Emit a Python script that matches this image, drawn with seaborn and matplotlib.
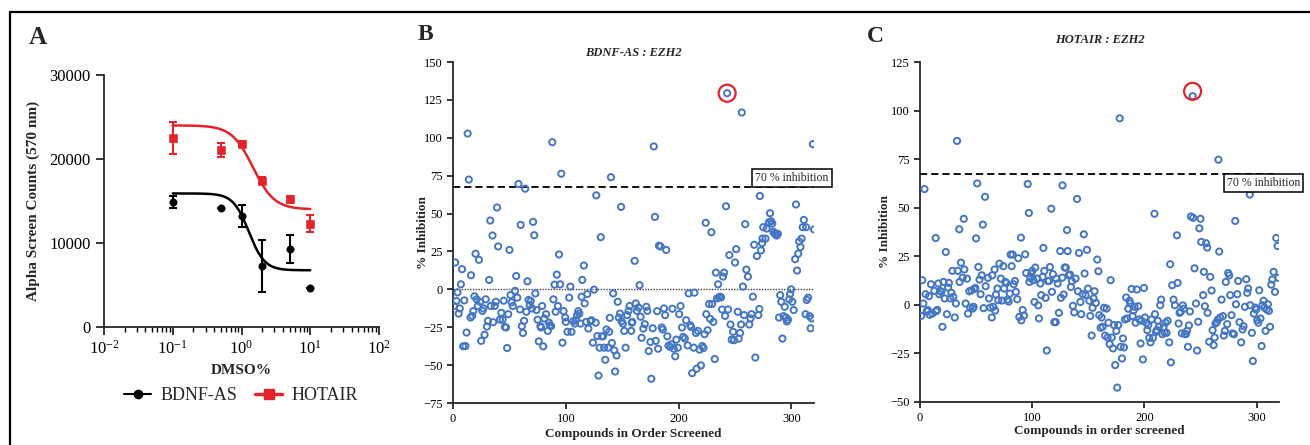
import numpy as np
import pandas as pd
import matplotlib
matplotlib.use("Agg")
import matplotlib.pyplot as plt
from matplotlib.lines import Line2D
import seaborn as sns

# ---------------- Panel A data ----------------
dmso_pct = [0.1, 0.5, 1.0, 2.0, 5.0, 10.0]
bdnf_counts = [14900, 14200, 13200, 7300, 9300, 4600]
bdnf_err = [700, 0, 1350, 3100, 1700, 0]
hotair_counts = [22500, 21100, 21800, 17400, 15200, 12300]
hotair_err = [1900, 850, 300, 400, 400, 1000]
# four-parameter logistic fit parameters (top, bottom, IC50, hill)
bdnf_fit = [15900, 6750, 1.28, 3.8]
hotair_fit = [24000, 14000, 1.47, 2.8]

# ---------------- Panel B data (BDNF-AS : EZH2) ----------------
b_compound = [
    1, 2, 3, 4, 5, 6, 7, 8, 9, 10, 11, 12, 13, 14, 15.5, 16, 17, 18, 19, 20,
    21, 22, 23, 24, 25, 26, 27, 28, 29, 30, 31, 32, 33, 33.5, 35, 35.6, 37, 38, 39, 40,
    41.6, 42.8, 44, 45, 46, 47, 48, 49, 50, 51, 52, 53, 55, 56, 57, 58, 59.4, 60, 61, 62,
    63, 64, 65, 66, 67, 68, 69, 70, 71, 72, 73, 74, 75, 76, 77.5, 78, 79, 80, 81, 82.5,
    84, 85, 86, 87, 88, 89, 90, 91, 92, 93, 94, 95, 96, 97, 98, 99.5, 100, 101.5, 103, 104,
    105, 106.6, 108, 109, 110, 111, 112, 113, 114, 114.6, 116, 116.7, 118, 119, 120, 122, 122.7, 124, 125, 126.5,
    127, 128, 129, 130, 131, 132, 133, 134, 135, 136, 137.5, 138.4, 139, 140, 140.8, 142, 143, 143.7, 145, 146,
    147, 148, 149, 149.4, 150.6, 151.8, 153, 154.4, 155.6, 156.5, 158, 158.5, 159, 161, 162, 163, 164.5, 165.4, 166.3, 167.2,
    168.7, 170, 171.4, 172.3, 173.5, 175, 175.8, 177, 178, 179, 179.7, 181, 181.8, 182.6, 184, 185, 186, 187, 188, 189,
    190, 191, 192.5, 193.6, 194.5, 195.7, 197, 198, 199.3, 200.5, 201.7, 203, 204, 205.5, 206.7, 208, 208.8, 210.3, 211, 212,
    213.4, 214, 215.3, 216, 217, 218.6, 219.8, 221, 222, 223, 224, 224.5, 225.7, 227, 228, 229, 229.6, 230.8, 232, 233,
    234, 235, 235.8, 236.7, 237.6, 238.5, 239.4, 240.3, 241.2, 242, 243, 243.8, 245, 246, 247, 248.3, 249.2, 250, 251, 252.4,
    253.3, 254.5, 255.4, 256, 257, 258, 259, 260, 261.4, 262.6, 263.7, 264.6, 265.8, 267, 268, 269.4, 270.6, 271.5, 272, 273,
    274, 274.3, 275, 277, 278, 280, 281, 282, 283, 284, 285, 286, 287, 288, 289, 290, 291, 292, 293, 294,
    295.2, 296, 297, 298, 298.8, 299.7, 300.8, 302, 303.3, 304, 305, 306, 306.8, 308, 309, 310, 311, 312.5, 313, 313.6,
    314.8, 316, 317, 318, 319, 320,
]
b_inhibition = [
    -11, 17.7, -7.7, -2, -16, -12.6, 3.3, 13.3, -37.6, -7.3, -37.4, -28.5, 102.8, 72.4, -18.6, 9.3, -17.5, -14.4, -4.6, 23.5,
    -6.6, -11, 19.5, -8.2, -34, -14.2, -12.6, -30, -6.6, -24.6, -20.8, 6.2, 45.4, -11, 35.5, -21.7, -11, -8.2, 54, 28.3,
    -20, -15.5, -20, -7.5, -24.8, -25.2, -38.7, -16.4, 26, -3.8, -8.6, -11, -1, 8.8, -5.5, 69.5, -13.3, 42.5, -24.3, -28.8,
    -20.8, 66.4, -14.8, 5.3, -7, -10.4, -7.7, -12.6, 44.5, 35.7, -2.7, -13.7, -20, -34.3, -24.3, -25.2, -11, -37.6, -19.2, -16.4,
    -27.4, -22, -23.7, -24.3, 97.1, -6.6, 3.1, -14.8, 9.7, -11, 23, 3.3, 76.3, -35.2, -14.4, -18.6, -21.5, -28, -5.5, 1.8,
    -28, -21, -22.6, -20.4, -17, -14.4, -16, -22.6, -4.9, 6.2, 15.7, -9.3, -21.5, -3.1, -25.9, -21, -20.4, -35.2, -0.2, -22,
    62, -30.8, -56.9, -38.5, 34.4, -31, -31, -38.5, -46.5, -26.5, -38.5, -28, -18.8, 74, -35.4, -2.7, -40.3, -54.2, -43.6, -8.2,
    -18.6, -16, 54.4, -21, -22.6, -27.4, -38.5, -17, -14.2, -11, -27.4, -22, -21.5, 18.8, -9.3, -14.2, -12, 2.7, -18.1, -32,
    -25.9, -23, -11.5, -14.2, -40.7, -34.7, -59, -25.7, 94.3, 47.8, -34, -14.4, -39.2, 28.8, 28.3, -25.2, -26.5, -12.6, -17, 26,
    -31, -37.2, -38, -36.3, -12.8, -39.2, -44.2, -33.2, -38.5, -16.4, -11, -25.2, -31.4, -32.5, -20.4, -37, -2.7, -23.7, -24.8, -55.3,
    -38.5, -2.2, -28.8, -52.4, -27.4, -39.8, -50.2, -37.4, -38.7, -29.6, 43.9, -16.4, -27, -9.7, -19.5, 37.7, -9.7, -21.5, -46, 11,
    -6, 3.3, -5.3, -4.9, -5.3, -13.3, 8.4, 11, -17.5, 54.8, 129.4, -13.3, 22.6, -23.2, -33.2, -28, -33.6, 17.7, 26.5, -14.8,
    -32.5, -28.8, -23.2, 116.7, 1.8, -17, 43, 13, 8.4, -23.2, -19.2, -16.4, -4.9, 29.4, -45, 22, -17, -13, 61.6, 25.7,
    30.5, 33.5, 41, 33.5, 40.1, 44.3, 50.2, 44.9, 43.4, 38, 36.8, 36.2, 35.5, 36.6, -18.6, -3.8, -8.2, -32.5, -17.7, -11.5,
    -18.6, -21.2, -20, -6.6, -3.1, 0, -8.2, -13.7, 19.9, 56, 12.4, 23.5, 31.6, 27.9, 33.5, 41, 45.8, -16.4, 41, -7,
    -5.5, -17.7, -25.7, -19.2, 95.8, 39.5,
]

# ---------------- Panel C data (HOTAIR : EZH2) ----------------
c_compound = [
    1, 2, 3, 4, 5, 6, 7, 8, 8.6, 9.8, 11, 12.8, 14, 14.3, 15.4, 16.3, 17.2, 18, 19, 20,
    21, 22, 23, 24, 25, 25.8, 27, 28, 28.8, 29.7, 31, 32, 33, 33.6, 35, 35.3, 36.5, 38, 39, 39.5,
    40.7, 41.9, 42.8, 44, 44.8, 46, 47, 47.8, 48.4, 49.3, 50, 51, 52, 53, 54, 55, 56, 56.7, 58, 58.5,
    60.6, 61.5, 62.7, 64, 64.4, 65.3, 66.5, 67, 67.7, 69, 69.8, 70.7, 72, 73, 74.3, 75, 76, 77, 78, 79,
    80, 80.8, 81.7, 82.6, 83.5, 84.6, 85.5, 86.7, 87.6, 88.5, 90, 90.3, 91.5, 92.7, 93.8, 94.7, 96, 97, 97.5, 98.3,
    99.2, 100, 101, 102, 102.8, 104.5, 105.4, 106, 107.2, 108, 109.3, 110, 110.8, 112, 113, 114, 115, 115.8, 117, 117.6,
    118.5, 119.7, 121, 121.5, 122.7, 123.8, 125, 125.6, 126.8, 127, 128, 129, 130, 131, 131.6, 132.5, 133.7, 134.5, 135.4, 136.3,
    137.5, 138.7, 140, 140.8, 141.7, 143, 143.7, 145, 146, 146.7, 147.6, 148.8, 149.7, 150.9, 151.8, 153, 153.8, 154.7, 155.6, 156.8,
    158, 159, 159.8, 161, 161.9, 162.8, 164, 165, 166.3, 167.2, 168, 169, 169.9, 171, 172, 173, 174, 175, 175.8, 176.7,
    178, 178.8, 180, 180.9, 181.8, 182.7, 183.8, 184.7, 185.6, 186.8, 187.4, 188.6, 189.5, 190.4, 191.3, 192.2, 193.3, 194.5, 195.4, 196.6,
    197.5, 198.7, 199.6, 200.5, 201.7, 202.6, 203.4, 204.3, 205.5, 206.4, 207.6, 209, 209.4, 210.3, 211.2, 212, 213, 214.1, 215, 216,
    217.1, 218, 218.9, 219.8, 220.7, 222.2, 223, 223.6, 224.8, 226, 227.2, 229, 229.6, 230.5, 231.4, 232.3, 233.4, 234.3, 235.2, 236.1,
    237, 238, 238.8, 239.7, 240.6, 241.5, 243, 243.5, 244.7, 246, 247, 248, 249, 250, 250.7, 252.4, 253, 253.9, 255, 256,
    256.3, 257.8, 258.7, 259.9, 260.8, 261.7, 262.6, 263.4, 264.6, 265.5, 266, 266.7, 267.6, 268.8, 270, 270.8, 271.8, 272.6, 273.8, 274.7,
    275.6, 276.5, 277.7, 278.6, 279.8, 281, 281.6, 282.8, 283.6, 284.8, 286.3, 287.5, 288.4, 289.6, 290.8, 291.7, 292.5, 294, 294.3, 295.8,
    296.7, 297.6, 298.8, 299.7, 300.6, 301.5, 302.4, 303.5, 304.5, 305.3, 306.2, 307.1, 308, 309, 310.1, 311, 312, 313.1, 314, 315.2,
    316.4, 317.5, 318.7, 319.6,
]
c_inhibition = [
    -5.7, 12.7, 0.7, 59.6, 5.5, -3.3, -2.7, 4.5, -5.1, 10.6, -4.5, 7.2, 34.4, -3.3, -2.6, 11, 5.5, 7.2, 6.7, -11.3,
    11.8, 3.3, 27.2, -4.8, 8.9, 11.3, 3.3, 6.2, 17.5, 4.1, -6.5, 0.7, 84.4, 17.5, 38.9, 11.8, 21.7, 14, 44.3, 18.2,
    0.7, 13.5, -4.5, 7, -1.4, 7.5, -1.9, -1, 8.2, 8.7, 34.2, 62.5, 19.5, 13, 5.5, 15.2, 41.3, -1.7, 55.6, 9.6,
    13.9, 3.3, -1.4, -6.5, 15.2, -1, 18.2, -2.9, 5.3, 8.4, 2.4, 21.2, 13.5, 2.2, 19.9, 8.4, 11.8, 11.3, 2.7, 1.7,
    5.8, 25.9, 19.9, 25.9, 10.6, 12.3, 6.7, 2.9, 24, -6.2, 34.6, -8, -2.7, -5.5, 26, 16.4, 62.2, 47.3, 11.8, 13.9,
    16.1, 17.5, 12.7, 1.5, 19.2, 13.5, -0.3, -7, 11, 5, 14.4, 29.3, 17.5, 3.6, -23.5, 12.3, 12.3, 19.5, 49.5, 6.7,
    15.8, -8.9, -8.9, 13.5, 11, -4.1, 27.7, 3.6, 14, 61.5, 5.3, 19.2, 19.2, 38.5, 27.7, 15.2, 15.6, 9.2, 12.2, -0.5,
    -3.9, 13.5, 54.5, 7, 26.7, 1.5, -4.8, 5.5, 36.3, 16.1, 5, 28.3, 8.4, 2.1, -5.7, -15.8, -1.5, 3.3, 7, 1,
    23.3, 17.3, -5.3, -11.8, -6.5, -11.3, -1.5, -15.8, -1.9, -16.8, -9.2, -20.2, 12.7, -16.8, -22.4, -10.4, -31, -13.4, -42.6, -10.4,
    96, -21.6, -27.6, -17.3, -21.9, -7.5, 3.8, -7, -2, 2.1, 0.7, 8.2, -5.8, -2.9, -1, -9.2, 7.9, -0.7, -7.5, -19.9,
    -8.2, -28.1, 8.7, -6.5, -9.2, -13, -10.4, -17, -19.3, -7.5, -17, 46.9, -4.8, -13.9, -13, -8.2, -11.3, -0.2, 2.7, -15.1,
    -11.6, -14.4, -9.2, -14.4, -8.2, -19.3, 20.9, -29.6, 10.1, 2.7, -0.2, 35.8, 11.3, -9.6, -4.1, -3.6, -14.7, -0.3, -2, -14.9,
    -15.1, -13.4, -21.6, -10.6, -3.4, 45.5, 107.4, 44.8, 18.8, 0.7, -23.5, -8.7, 39.4, 44.3, 32.4, 5, 17, -0.7, 31.7, 29.5,
    -4.1, -19, 14.4, 7.4, -13, -20.7, -16.8, -9.6, -8.9, -7.5, 74.7, 27.4, -6.5, 2.7, -5.8, -15.8, -13.4, 11.8, -9.9, 16.4,
    15.2, 5, -5.3, -14.7, -15.1, 43.2, 0.3, 5.5, 12.3, -8.9, -19.3, -12.7, -11, -1, 13.2, 6.2, 8.4, 56.8, -0.2, -14.4,
    -28.9, -4.5, -1.4, -2.4, -7.9, -9.2, 7.5, -7, -21.2, -0.2, 2.1, -1.4, -13.4, -2.4, 0.3, -3.1, -11.3, 10.4, 13, 17,
    6.7, 34.4, 30.3, 13.9,
]

threshold = 67.5
threshold_label = "70 % inhibition"

# ---------------- styling ----------------
sns.set_style("ticks")
plt.rcParams["font.family"] = ["Liberation Serif", "DejaVu Serif"]
plt.rcParams["mathtext.fontset"] = "custom"
plt.rcParams["mathtext.rm"] = "Liberation Serif"
plt.rcParams["mathtext.it"] = "Liberation Serif:italic"
plt.rcParams["axes.linewidth"] = 1.3
plt.rcParams["xtick.major.width"] = 1.1
plt.rcParams["ytick.major.width"] = 1.1
plt.rcParams["xtick.color"] = "black"
plt.rcParams["ytick.color"] = "black"

BLUE = "#4576c4"
RED = "#e4232b"

fig = plt.figure(figsize=(13.1, 4.45), dpi=100)

# frame lines (top and left)
fig.add_artist(Line2D([9.5 / 1310, 1.0], [1 - 11.5 / 445] * 2, color="black", lw=1.6,
                      transform=fig.transFigure))
fig.add_artist(Line2D([9.5 / 1310] * 2, [0, 1 - 11.5 / 445], color="black", lw=1.6,
                      transform=fig.transFigure))

# ================= Panel A =================
axA = fig.add_axes([104 / 1310, 1 - 327 / 445, 275 / 1310, 252 / 445])
xs = np.logspace(-1, 1, 200)


def four_pl(x, p):
    top, bottom, ic50, hill = p
    return bottom + (top - bottom) / (1 + (x / ic50) ** hill)


sns.lineplot(x=xs, y=four_pl(xs, bdnf_fit), ax=axA, color="black", lw=1.8)
sns.lineplot(x=xs, y=four_pl(xs, hotair_fit), ax=axA, color=RED, lw=1.8)
axA.errorbar(dmso_pct, bdnf_counts, yerr=bdnf_err, fmt="none", ecolor="black",
             elinewidth=1.5, capsize=3.2, capthick=1.5)
axA.errorbar(dmso_pct, hotair_counts, yerr=hotair_err, fmt="none", ecolor=RED,
             elinewidth=1.5, capsize=3.2, capthick=1.5)
sns.scatterplot(x=dmso_pct, y=bdnf_counts, ax=axA, marker="o", s=28, color="black",
                edgecolor="black", zorder=5)
sns.scatterplot(x=dmso_pct, y=hotair_counts, ax=axA, marker="s", s=30, color=RED,
                edgecolor=RED, zorder=5)
axA.set_xscale("log")
axA.set_xlim(1e-2, 1e2)
axA.set_ylim(0, 30000)
axA.set_yticks([0, 10000, 20000, 30000])
axA.set_yticklabels(["0", "10000", "20000", "30000"])
axA.tick_params(axis="both", which="major", labelsize=12, length=6, direction="out")
axA.tick_params(axis="x", which="minor", length=3.5, width=1.0)
axA.set_xlabel("DMSO%", fontsize=11, fontweight="bold")
axA.set_ylabel("Alpha Screen Counts (570 nm)", fontsize=11, fontweight="bold")
axA.xaxis.set_label_coords(0.5, (327 - 364) / 252)
axA.yaxis.set_label_coords((40 - 104) / 275, 0.5)
sns.despine(ax=axA)

handles = [
    Line2D([], [], color="black", marker="o", markersize=6, lw=1.5),
    Line2D([], [], color=RED, marker="s", markersize=6.5, lw=2.5),
]
fig.legend(handles, ["BDNF-AS", "HOTAIR"], loc="center", bbox_to_anchor=(241 / 1310, 1 - 396 / 445),
           ncol=2, frameon=False, fontsize=13, handlelength=1.5, columnspacing=1.0,
           handletextpad=0.5)

# ================= Panel B =================
axB = fig.add_axes([453 / 1310, 1 - 403 / 445, 361 / 1310, 341 / 445])
dfB = pd.DataFrame({"compound": b_compound, "inhibition": b_inhibition})
sns.scatterplot(data=dfB, x="compound", y="inhibition", ax=axB, marker="o", s=20,
                facecolor="none", edgecolor=BLUE, linewidth=1.4, zorder=3)
axB.axhline(threshold, color="black", ls=(0, (4, 2.2)), lw=1.3, zorder=2)
axB.axhline(0, color="0.25", ls=(0, (1, 1)), lw=1.0, zorder=1)
topB = dfB.loc[dfB["inhibition"].idxmax()]
sns.scatterplot(x=[topB["compound"]], y=[topB["inhibition"]], ax=axB, marker="o", s=150,
                facecolor="none", edgecolor=RED, linewidth=1.6, zorder=4)
axB.text(268, 73.2, threshold_label, fontsize=8.5, ha="left", va="center", zorder=6,
         bbox=dict(boxstyle="square,pad=0.25", fc="white", ec="black", lw=1.1), clip_on=False)
axB.set_xlim(0, 320)
axB.set_ylim(-75, 150)
axB.set_xticks([0, 100, 200, 300])
axB.set_yticks(np.arange(-75, 151, 25))
axB.tick_params(axis="both", labelsize=9, length=4, direction="out")
axB.set_xlabel("Compounds in Order Screened", fontsize=9.5, fontweight="bold")
axB.set_ylabel("% Inhibition", fontsize=9.5, fontweight="bold")
axB.xaxis.set_label_coords(0.5, (403 - 428) / 341)
axB.yaxis.set_label_coords((429 - 453) / 361, 0.5)
axB.set_title("BDNF-AS : EZH2", fontsize=9, fontweight="bold", fontstyle="italic", pad=4)
sns.despine(ax=axB)

# ================= Panel C =================
axC = fig.add_axes([920 / 1310, 1 - 402 / 445, 359 / 1310, 340 / 445])
dfC = pd.DataFrame({"compound": c_compound, "inhibition": c_inhibition})
sns.scatterplot(data=dfC, x="compound", y="inhibition", ax=axC, marker="o", s=20,
                facecolor="none", edgecolor=BLUE, linewidth=1.4, zorder=3)
axC.axhline(threshold, color="black", ls=(0, (4, 2.2)), lw=1.3, zorder=2)
topC = dfC.loc[dfC["inhibition"].idxmax()]
sns.scatterplot(x=[topC["compound"]], y=[topC["inhibition"] + 2.5], ax=axC, marker="o", s=150,
                facecolor="none", edgecolor=RED, linewidth=1.6, zorder=4)
axC.text(273.5, 62.6, threshold_label, fontsize=8.5, ha="left", va="center", zorder=6,
         bbox=dict(boxstyle="square,pad=0.25", fc="white", ec="black", lw=1.1), clip_on=False)
axC.set_xlim(0, 320)
axC.set_ylim(-50, 125)
axC.set_xticks([0, 100, 200, 300])
axC.set_yticks(np.arange(-50, 126, 25))
axC.tick_params(axis="both", labelsize=9, length=4, direction="out")
axC.set_xlabel("Compounds in order screened", fontsize=9.5, fontweight="bold")
axC.set_ylabel("% Inhibition", fontsize=9.5, fontweight="bold")
axC.xaxis.set_label_coords(0.5, (402 - 425) / 340)
axC.yaxis.set_label_coords((891 - 920) / 359, 0.5)
axC.set_title("HOTAIR : EZH2", fontsize=9, fontweight="bold", fontstyle="italic", pad=14)
sns.despine(ax=axC)

# panel letters
for letter, xpx, ypx, fs in [("A", 38, 38, 18), ("B", 425, 35, 17), ("C", 875, 36, 17)]:
    fig.text(xpx / 1310, 1 - ypx / 445, letter, fontsize=fs, fontweight="bold",
             ha="center", va="center")

fig.savefig("out.png", dpi=100, facecolor="white")
